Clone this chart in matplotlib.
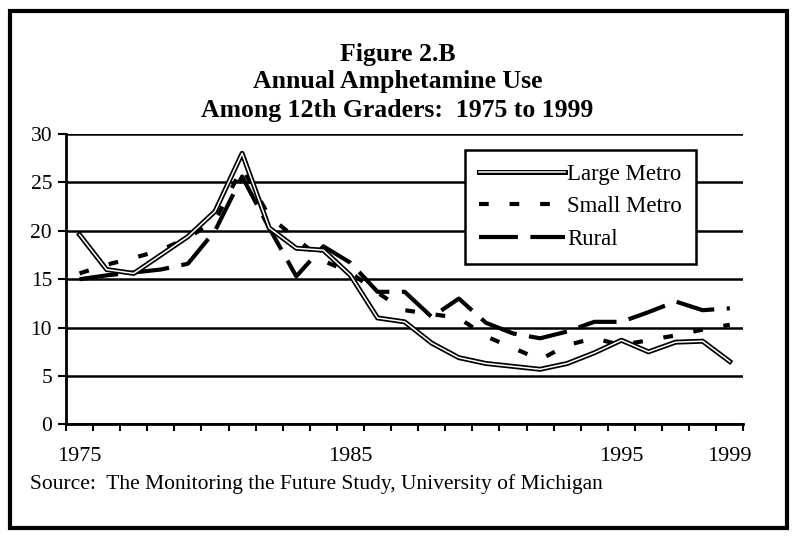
import matplotlib
matplotlib.use("Agg")
import matplotlib.pyplot as plt
import matplotlib.patheffects as pe
from matplotlib.patches import Rectangle

plt.rcParams["font.family"] = ["Liberation Serif", "DejaVu Serif"]
plt.rcParams["lines.scale_dashes"] = False

years = list(range(1975, 2000))
year_labels = ["1975", "1985", "1995", "1999"]

large_metro = [19.6, 16.0, 15.6, 17.5, 19.4, 22.0, 28.0, 20.3, 18.2, 18.0,
               15.4, 11.0, 10.6, 8.4, 6.9, 6.3, 6.0, 5.7, 6.3, 7.4,
               8.7, 7.5, 8.5, 8.6, 6.5]
small_metro = [15.6, 16.5, 17.2, 18.0, 19.3, 21.0, 26.5, 21.5, 19.2, 16.9,
               15.7, 13.6, 11.8, 11.4, 11.0, 9.1, 7.9, 6.7, 8.2, 8.9,
               8.2, 8.7, 9.2, 9.8, 10.3]
rural = [15.0, 15.4, 15.7, 16.0, 16.6, 20.0, 25.6, 20.3, 15.3, 18.4,
         16.7, 13.7, 13.7, 11.1, 13.0, 10.5, 9.4, 8.9, 9.6, 10.6,
         10.6, 11.6, 12.7, 11.8, 12.0]

fig = plt.figure(figsize=(7.95, 5.38), dpi=100)
ax = fig.add_axes([0.083, 0.211, 0.852, 0.540])

x = list(range(len(years)))

ax.plot(x, rural, color="black", lw=3.0, dashes=(28, 9),
        solid_capstyle="butt", dash_capstyle="butt", label="Rural", zorder=3)
ax.plot(x, small_metro, color="black", lw=3.0, dashes=(7, 15),
        dash_capstyle="butt", label="Small Metro", zorder=4)
# double line: white core over a black stroke
ax.plot(x, large_metro, color="white", lw=1.1, label="Large Metro", zorder=5,
        path_effects=[pe.Stroke(linewidth=3.6, foreground="black"), pe.Normal()])

ax.set_xlim(-0.5, len(years) - 0.5)
ax.set_ylim(0, 30)
ax.set_yticks(range(0, 31, 5))
ax.yaxis.grid(True, color="black", lw=1.8)
ax.set_axisbelow(True)

# year labels only at a few categories, tick marks between categories
label_pos = [years.index(int(y)) for y in year_labels]
ax.set_xticks(label_pos)
ax.set_xticklabels(year_labels)
ax.tick_params(axis="x", which="major", length=0, pad=16.5, labelsize=16)
ax.set_xticks([i - 0.5 for i in range(len(years) + 1)], minor=True)
ax.tick_params(axis="x", which="minor", direction="out", length=5, width=1.5)
ax.tick_params(axis="y", direction="out", length=6, width=1.5, labelsize=15.5, pad=4)

for side in ["top", "right"]:
    ax.spines[side].set_visible(False)
ax.spines["left"].set_linewidth(2)
ax.spines["bottom"].set_linewidth(2)

handles, labels = ax.get_legend_handles_labels()
order = [2, 1, 0]
leg = ax.legend([handles[i] for i in order], [labels[i] for i in order],
                loc="upper left", bbox_to_anchor=(0.589, 0.945), borderaxespad=0,
                fontsize=16.4, frameon=True, fancybox=False, edgecolor="black",
                framealpha=1, handlelength=3.8, handletextpad=0.1,
                labelspacing=0.52, borderpad=0.6)
leg.get_frame().set_linewidth(1.8)
leg.set_zorder(10)

fig.text(0.5, 0.899, "Figure 2.B", ha="center", va="center",
         fontsize=18.5, fontweight="bold")
fig.text(0.5, 0.848, "Annual Amphetamine Use", ha="center", va="center",
         fontsize=18.5, fontweight="bold")
fig.text(0.5, 0.795, "Among 12th Graders:  1975 to 1999", ha="center", va="center",
         fontsize=18.5, fontweight="bold")
fig.text(0.038, 0.100, "Source:  The Monitoring the Future Study, University of Michigan",
         ha="left", va="center", fontsize=15.5)

fig.patches.append(Rectangle((0.013, 0.018), 0.977, 0.962, transform=fig.transFigure,
                             fill=False, edgecolor="black", lw=3))

fig.savefig("out.png", dpi=100)
